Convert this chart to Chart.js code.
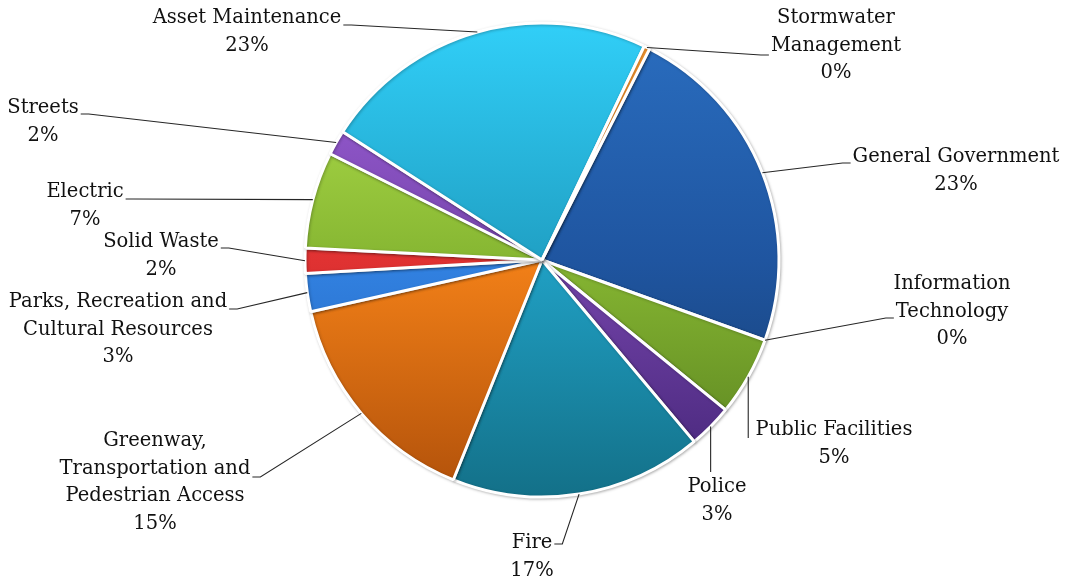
<!DOCTYPE html>
<html>
<head>
<meta charset="utf-8">
<title>Capital Spending by Category</title>
<script src="https://cdn.jsdelivr.net/npm/chart.js@4.4.1/dist/chart.umd.min.js"></script>
<style>
    html, body { margin: 0; padding: 0; background: #ffffff; }
    #wrap { position: relative; width: 1066px; height: 579px; }
</style>
</head>
<body>
<div id="wrap"><canvas id="pieChart"></canvas></div>
<script>
// Categories in drawing order (clockwise from General Government)
const categories = [
    ['General Government'],
    ['Information', 'Technology'],
    ['Public Facilities'],
    ['Police'],
    ['Fire'],
    ['Greenway,', 'Transportation and', 'Pedestrian Access'],
    ['Parks, Recreation and', 'Cultural Resources'],
    ['Solid Waste'],
    ['Electric'],
    ['Streets'],
    ['Asset Maintenance'],
    ['Stormwater', 'Management']
];

// Share of total (percent)
const shares = [23.0, 0, 5.4, 3.0, 17.2, 15.4, 2.6, 1.7, 6.6, 1.7, 23.0, 0.4];

// Top / middle / bottom colours of each slice's shading
const sliceColors = [
    ['#2a6ec0', '#1f55a0', '#153a6a'],
    ['#f05a50', '#d04038', '#902520'],
    ['#b8e650', '#86b632', '#557d1e'],
    ['#a262de', '#7545ab', '#432476'],
    ['#31cff8', '#20a0c4', '#137088'],
    ['#ffa035', '#f28018', '#b0500a'],
    ['#4aa0ff', '#3282e2', '#1f5cb0'],
    ['#ff5050', '#e03232', '#a01c1c'],
    ['#b8e650', '#86b632', '#557d1e'],
    ['#a262de', '#7545ab', '#432476'],
    ['#31cff8', '#20a0c4', '#137088'],
    ['#ffa035', '#f28018', '#b0500a']
];

// Label placement relative to the pie centre:
// dx/dy = centre of first text line, ay = y of the leader tail,
// line = which text line the leader meets, side = which side of the text it meets,
// v = vertical leader dropping onto the top of the label
const labelLayout = [
    { dx: 414, dy: -103, ay: -97, line: 0, side: 'left' },
    { dx: 410, dy: 24, ay: 58, line: 1, side: 'left' },
    { dx: 292, dy: 170, ay: 178, v: true },
    { dx: 175, dy: 227, ay: 212, v: true },
    { dx: -10, dy: 283, ay: 284, line: 0, side: 'right' },
    { dx: -387, dy: 181, ay: 217, line: 1, side: 'right' },
    { dx: -424, dy: 42, ay: 49, line: 0, side: 'right' },
    { dx: -381, dy: -18, ay: -12, line: 0, side: 'right' },
    { dx: -457, dy: -68, ay: -61, line: 0, side: 'right' },
    { dx: -499, dy: -152, ay: -146, line: 0, side: 'right' },
    { dx: -295, dy: -242, ay: -235, line: 0, side: 'right' },
    { dx: 294, dy: -242, ay: -205, line: 1, side: 'left' }
];

const total = shares.reduce((a, b) => a + b, 0);
const LABEL_FONT = '19.5px "DejaVu Serif"';
const LINE_GAP = 27.5;

function sliceFill(ctx) {
    const chart = ctx.chart;
    const area = chart.chartArea;
    const c = sliceColors[ctx.dataIndex];
    if (!area) return c[1];
    const g = chart.ctx.createLinearGradient(0, area.top, 0, area.bottom);
    g.addColorStop(0, c[0]);
    g.addColorStop(0.5, c[1]);
    g.addColorStop(1, c[2]);
    return g;
}

// soft shadow under the slices, gives the raised look
const sliceShadow = {
    id: 'sliceShadow',
    beforeDatasetsDraw(chart) {
        const ctx = chart.ctx;
        ctx.save();
        ctx.shadowColor = 'rgba(0, 0, 0, 0.25)';
        ctx.shadowBlur = 3;
        ctx.shadowOffsetX = 1;
        ctx.shadowOffsetY = 1;
    },
    afterDatasetsDraw(chart) {
        chart.ctx.restore();
    }
};

// category name + percent outside the pie, with leader lines
const sliceLabels = {
    id: 'sliceLabels',
    afterDraw(chart) {
        const ctx = chart.ctx;
        const arcs = chart.getDatasetMeta(0).data;
        if (!arcs.length) return;
        const cx = arcs[0].x, cy = arcs[0].y;
        ctx.save();
        ctx.font = LABEL_FONT;
        ctx.textAlign = 'center';
        ctx.textBaseline = 'middle';
        ctx.fillStyle = '#111111';
        ctx.strokeStyle = '#262626';
        ctx.lineWidth = 1.1;

        arcs.forEach((arc, i) => {
            const p = labelLayout[i];
            const pct = Math.round(shares[i] / total * 100);
            const lines = categories[i].concat([pct + '%']);
            const tx = cx + p.dx, ty = cy + p.dy;
            lines.forEach((t, k) => ctx.fillText(t, tx, ty + k * LINE_GAP));

            const mid = (arc.startAngle + arc.endAngle) / 2;
            const ex = arc.x + Math.cos(mid) * arc.outerRadius;
            const ey = arc.y + Math.sin(mid) * arc.outerRadius;

            ctx.beginPath();
            ctx.moveTo(ex, ey);
            if (p.v) {
                ctx.lineTo(ex, cy + p.ay);
            } else {
                const w = ctx.measureText(lines[p.line]).width;
                const dir = p.side === 'right' ? 1 : -1;
                const ax = tx + dir * (w / 2 + 2);
                ctx.lineTo(ax + dir * 8, cy + p.ay);
                ctx.lineTo(ax, cy + p.ay);
            }
            ctx.stroke();
        });
        ctx.restore();
    }
};

new Chart(document.getElementById('pieChart'), {
    type: 'pie',
    data: {
        labels: categories,
        datasets: [{
            data: shares,
            backgroundColor: sliceFill,
            borderColor: '#ffffff',
            borderWidth: 3
        }]
    },
    options: {
        responsive: true,
        maintainAspectRatio: false,
        animation: false,
        rotation: 27,
        layout: {
            padding: { left: 303.5, right: 285.5, top: 21.5, bottom: 80.5 }
        },
        plugins: {
            legend: { display: false },
            tooltip: { enabled: false }
        }
    },
    plugins: [sliceShadow, sliceLabels]
});
</script>
</body>
</html>
